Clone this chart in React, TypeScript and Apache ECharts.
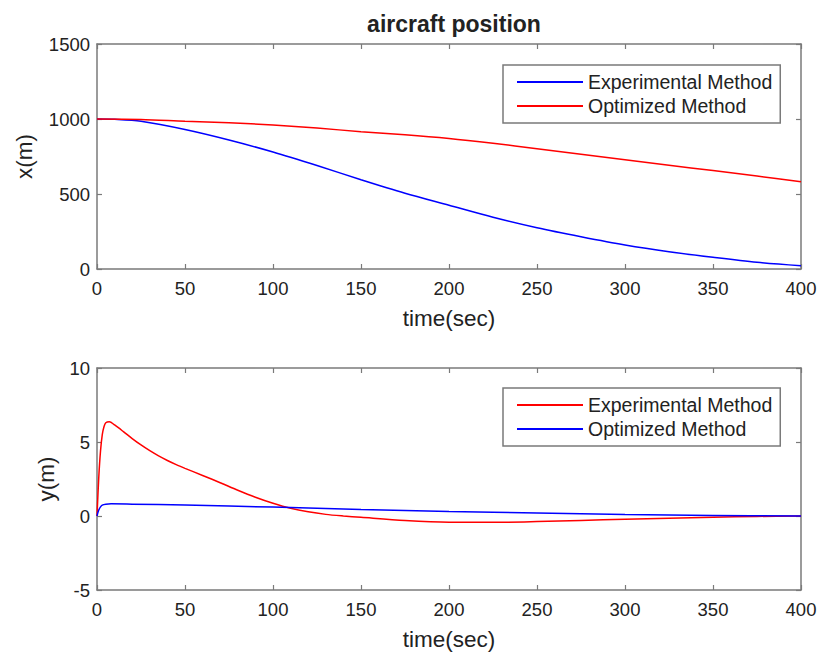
import React, { useEffect, useRef } from "react";
import * as echarts from "echarts";

const xTicks = [0, 400, 50];
const topY = [0, 1500, 500];
const botY = [-5, 10, 5];

const topExperimental: [number, number][] = [
  [0, 1000], [10, 998], [25, 985], [50, 930], [75, 860], [100, 780], [125, 690],
  [150, 595], [175, 505], [200, 425], [225, 345], [250, 275], [275, 215], [300, 160],
  [325, 115], [350, 78], [375, 45], [400, 22],
];
const topOptimized: [number, number][] = [
  [0, 1000], [25, 997], [50, 985], [75, 975], [100, 960], [125, 940], [150, 915],
  [175, 895], [200, 870], [225, 838], [250, 802], [275, 765], [300, 728], [325, 692],
  [350, 656], [375, 620], [400, 582],
];
const botExperimental: [number, number][] = [
  [0, 0], [1, 2.6], [2, 4.4], [3, 5.5], [4, 6.05], [5, 6.3], [7, 6.37], [10, 6.15],
  [15, 5.7], [20, 5.23], [25, 4.8], [30, 4.41], [35, 4.06], [40, 3.75], [45, 3.47],
  [50, 3.22], [60, 2.74], [70, 2.25], [80, 1.74], [90, 1.27], [100, 0.86], [110, 0.52],
  [120, 0.28], [130, 0.11], [140, 0.0], [150, -0.09], [175, -0.3], [200, -0.42],
  [225, -0.43], [250, -0.38], [275, -0.3], [300, -0.22], [325, -0.15], [350, -0.08],
  [375, -0.03], [400, 0],
];
const botOptimized: [number, number][] = [
  [0, 0], [1, 0.4], [2, 0.62], [3, 0.74], [5, 0.8], [8, 0.82], [20, 0.8], [50, 0.74],
  [100, 0.6], [150, 0.44], [200, 0.31], [250, 0.2], [300, 0.1], [350, 0.04], [400, 0],
];

const AX = "#7a7a7a";
const TXT = "#222222";
const FONT = "Liberation Sans, Arial, sans-serif";
const BLUE = "#0000ff";
const RED = "#ff0000";

function frameAxes(kind: "x" | "y", gridIndex: number, range: number[], name?: string, nameGap?: number) {
  const [min, max, interval] = range;
  const base = {
    type: "value",
    gridIndex,
    min,
    max,
    interval,
    splitLine: { show: false },
    axisLine: { show: true, onZero: false, lineStyle: { color: AX, width: 1.5 } },
    axisTick: { show: true, inside: true, length: 5, lineStyle: { color: AX, width: 1.2 } },
  };
  const primary: any = {
    ...base,
    position: kind === "x" ? "bottom" : "left",
    axisLabel: {
      show: true,
      color: TXT,
      fontSize: 18.5,
      fontFamily: FONT,
      margin: kind === "x" ? 10 : 7,
      formatter: (v: number) => String(v),
    },
  };
  if (name) {
    primary.name = name;
    primary.nameLocation = "middle";
    primary.nameGap = nameGap;
    primary.nameTextStyle = { color: TXT, fontSize: 22.5, fontFamily: FONT };
  }
  const secondary: any = {
    ...base,
    position: kind === "x" ? "top" : "right",
    axisLabel: { show: false },
  };
  return [primary, secondary];
}

function legendFor(top: number, first: string, second: string, c1: string, c2: string) {
  return {
    orient: "vertical",
    left: 503,
    top,
    padding: [7, 8, 7, 14],
    itemGap: 4,
    itemWidth: 66,
    itemHeight: 2,
    icon: "rect",
    borderColor: AX,
    borderWidth: 1.5,
    backgroundColor: "#ffffff",
    selectedMode: false,
    textStyle: { color: TXT, fontSize: 19.5, fontFamily: FONT },
    data: [
      { name: first, itemStyle: { color: c1 } },
      { name: second, itemStyle: { color: c2 } },
    ],
  };
}

export default function App() {
  const ref = useRef<HTMLDivElement>(null);
  useEffect(() => {
    if (!ref.current) return;
    const chart = echarts.init(ref.current, undefined, { renderer: "svg" });
    const [x0a, x0b] = frameAxes("x", 0, xTicks, "time(sec)", 38);
    const [x1a, x1b] = frameAxes("x", 1, xTicks, "time(sec)", 38);
    const [y0a, y0b] = frameAxes("y", 0, topY, "x(m)", 61);
    const [y1a, y1b] = frameAxes("y", 1, botY, "y(m)", 39);
    const lineCommon = {
      type: "line",
      showSymbol: false,
      symbol: "none",
      smooth: 0.3,
      z: 3,
    };
    chart.setOption({
      animation: false,
      backgroundColor: "#ffffff",
      title: {
        text: "aircraft position",
        left: 449,
        top: 7,
        textAlign: "center",
        textStyle: { color: TXT, fontSize: 23, fontWeight: "bold", fontFamily: FONT },
      },
      grid: [
        { left: 97, top: 44, width: 704, height: 225 },
        { left: 97, top: 368, width: 704, height: 222 },
      ],
      xAxis: [x0a, x0b, x1a, x1b],
      yAxis: [y0a, y0b, y1a, y1b],
      legend: [
        legendFor(65, "Experimental Method", "Optimized Method", BLUE, RED),
        legendFor(388, "Experimental Method", "Optimized Method", RED, BLUE),
      ],
      series: [
        { ...lineCommon, id: "tx", name: "Experimental Method", xAxisIndex: 0, yAxisIndex: 0, data: topExperimental, lineStyle: { color: BLUE, width: 1.5 }, itemStyle: { color: BLUE } },
        { ...lineCommon, id: "to", name: "Optimized Method", xAxisIndex: 0, yAxisIndex: 0, data: topOptimized, lineStyle: { color: RED, width: 1.5 }, itemStyle: { color: RED } },
        { ...lineCommon, id: "by", name: "Experimental Method", xAxisIndex: 2, yAxisIndex: 2, data: botExperimental, lineStyle: { color: RED, width: 1.5 }, itemStyle: { color: RED } },
        { ...lineCommon, id: "bo", name: "Optimized Method", xAxisIndex: 2, yAxisIndex: 2, data: botOptimized, lineStyle: { color: BLUE, width: 1.5 }, itemStyle: { color: BLUE } },
      ],
    });
    return () => chart.dispose();
  }, []);
  return (
    <div
      ref={ref}
      style={{ position: "fixed", left: 0, top: 0, width: 823, height: 655 }}
    />
  );
}
